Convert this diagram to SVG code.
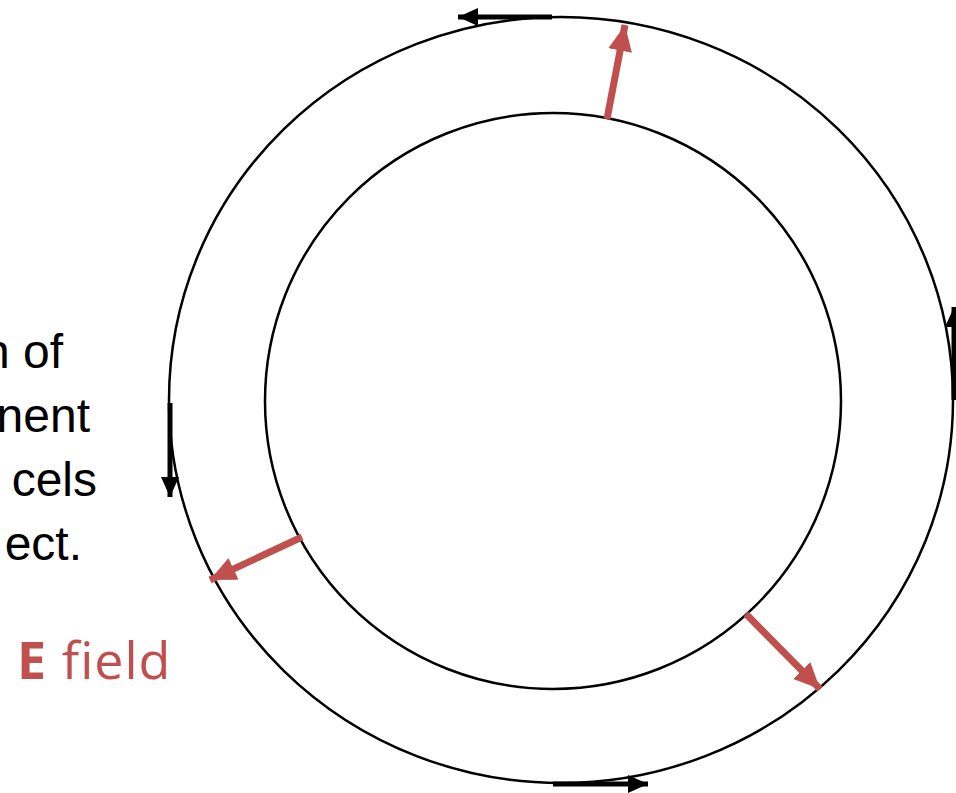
<svg xmlns="http://www.w3.org/2000/svg" width="956" height="793" viewBox="0 0 956 793">
<style>
.ring{fill:none;stroke:#000;stroke-width:2.5}
.blk{stroke:#000;stroke-width:5;fill:none}
.red{stroke:#C0504D;stroke-width:7;fill:none}
.lbl{font-family:"Liberation Sans",Arial,sans-serif;font-size:48px;fill:#000;text-anchor:end}
.ef{font-family:"Open Sans",Lato,sans-serif;font-size:52px;fill:#C0504D;letter-spacing:1px}
</style>
<defs>
<marker id="ab" markerUnits="userSpaceOnUse" markerWidth="24" markerHeight="20" refX="20" refY="9" orient="auto"><path d="M0,0 L20,9 L0,18 z" fill="#000"/></marker>
<marker id="ar" markerUnits="userSpaceOnUse" markerWidth="30" markerHeight="26" refX="26" refY="12" orient="auto"><path d="M0,0 L26,12 L0,24 z" fill="#C0504D"/></marker>
</defs>
<g id="text">
<text class="lbl" x="63" y="368">n of</text>
<text class="lbl" x="90" y="432">nent</text>
<text class="lbl" x="97" y="496">cels</text>
<text class="lbl" x="82" y="560">ect.</text>
<text class="ef" x="17" y="679"><tspan font-weight="bold">E</tspan> field</text>
</g>
<g id="outer"><ellipse class="ring" cx="561" cy="400" rx="392" ry="383"/></g>
<g id="inner"><circle class="ring" cx="553" cy="401" r="288"/></g>
<g id="connectors">
<line class="blk" x1="552" y1="17" x2="458" y2="17" marker-end="url(#ab)"/>
<line class="blk" x1="170" y1="403" x2="170" y2="497" marker-end="url(#ab)"/>
<line class="blk" x1="553" y1="784" x2="648" y2="784" marker-end="url(#ab)"/>
<line class="blk" x1="954" y1="400" x2="954" y2="307" marker-end="url(#ab)"/>
<line class="red" x1="607" y1="119" x2="625" y2="25" marker-end="url(#ar)"/>
<line class="red" x1="302" y1="537" x2="210" y2="580" marker-end="url(#ar)"/>
<line class="red" x1="746" y1="614" x2="820" y2="689" marker-end="url(#ar)"/>
</g>
</svg>
